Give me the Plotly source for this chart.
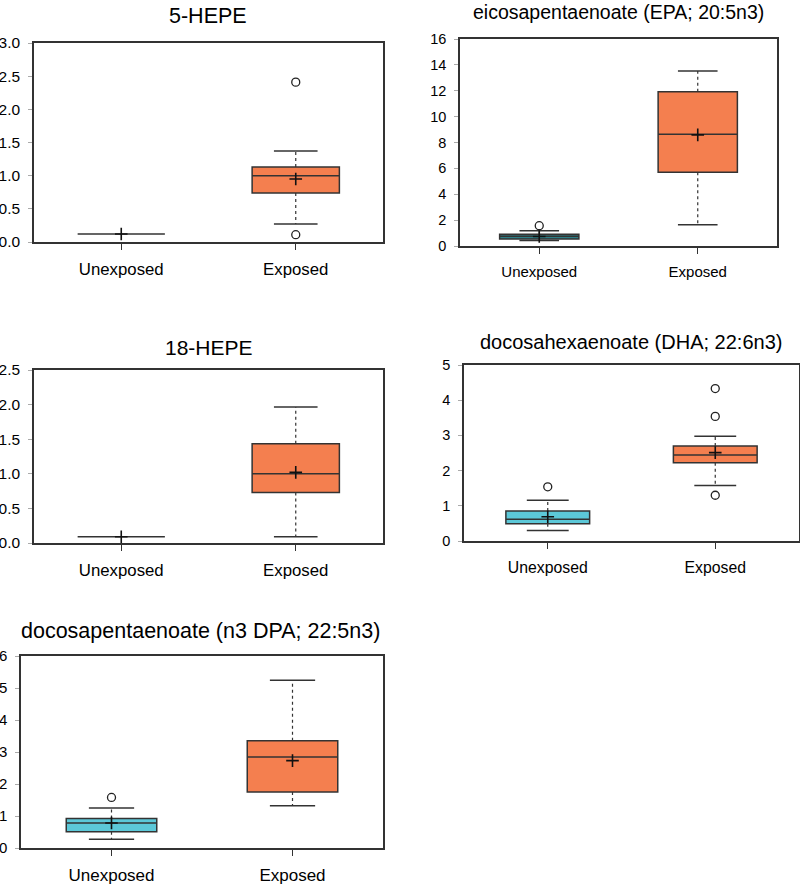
import plotly.graph_objects as go

# ---------------- data ----------------
categories = ["Unexposed", "Exposed"]
positions = [0, 1]

titles = ["5-HEPE", "eicosapentaenoate (EPA; 20:5n3)", "18-HEPE",
          "docosahexaenoate (DHA; 22:6n3)", "docosapentaenoate (n3 DPA; 22:5n3)"]

# 5-HEPE
hepe5_q1 = [0.12, 0.74]
hepe5_med = [0.12, 1.00]
hepe5_q3 = [0.12, 1.13]
hepe5_lo = [0.12, 0.27]
hepe5_hi = [0.12, 1.37]
hepe5_mean = [0.12, 0.95]
hepe5_out = [[], [2.41, 0.11]]

# EPA
epa_q1 = [0.55, 5.71]
epa_med = [0.75, 8.64]
epa_q3 = [0.90, 11.93]
epa_lo = [0.43, 1.65]
epa_hi = [1.18, 13.52]
epa_mean = [0.74, 8.59]
epa_out = [[1.57], []]

# 18-HEPE
hepe18_q1 = [0.09, 0.73]
hepe18_med = [0.09, 1.00]
hepe18_q3 = [0.09, 1.435]
hepe18_lo = [0.09, 0.09]
hepe18_hi = [0.09, 1.965]
hepe18_mean = [0.09, 1.02]
hepe18_out = [[], []]

# DHA
dha_q1 = [0.49, 2.22]
dha_med = [0.62, 2.44]
dha_q3 = [0.85, 2.70]
dha_lo = [0.30, 1.58]
dha_hi = [1.16, 2.975]
dha_mean = [0.69, 2.51]
dha_out = [[1.54], [4.33, 3.54, 1.30]]

# DPA
dpa_q1 = [0.51, 1.75]
dpa_med = [0.78, 2.84]
dpa_q3 = [0.92, 3.35]
dpa_lo = [0.27, 1.32]
dpa_hi = [1.25, 5.24]
dpa_mean = [0.78, 2.73]
dpa_out = [[1.58], []]

y_max = [3.0, 16, 2.5, 5, 6]
y_dtick = [0.5, 2, 0.5, 1, 1]
y_fmt = [".1f", "d", ".1f", "d", "d"]

panels = [
    (hepe5_q1, hepe5_med, hepe5_q3, hepe5_lo, hepe5_hi, hepe5_mean, hepe5_out),
    (epa_q1, epa_med, epa_q3, epa_lo, epa_hi, epa_mean, epa_out),
    (hepe18_q1, hepe18_med, hepe18_q3, hepe18_lo, hepe18_hi, hepe18_mean, hepe18_out),
    (dha_q1, dha_med, dha_q3, dha_lo, dha_hi, dha_mean, dha_out),
    (dpa_q1, dpa_med, dpa_q3, dpa_lo, dpa_hi, dpa_mean, dpa_out),
]

# ---------------- style / layout ----------------
W, H = 800, 886
# panel boxes in pixels: (left, right, top, bottom)
boxes_px = [(34, 383, 43, 242), (460, 777, 39, 246), (34, 383, 370, 543),
            (464, 799, 365, 541), (21, 383, 656, 848)]
title_px = [(208, 16), (618, 12), (209, 347), (631, 342), (201, 631)]
title_size = [21.5, 19.5, 21, 20, 21.5]
ytick_size = [15.5, 14.5, 15.5, 14.5, 15]
xtick_size = [16.8, 15, 16.8, 15.8, 17]
fills = [["#5CC8D8", "#F47F4F"], ["#2E7E85", "#F47F4F"], ["#5CC8D8", "#F47F4F"],
         ["#5CC8D8", "#F47F4F"], ["#5CC8D8", "#F47F4F"]]
LINE = "#333333"
TXT = "#000000"
BOXW = 0.5
CAPW = 0.25
FAMILY = "Liberation Sans, Arial, sans-serif"

fig = go.Figure()
layout = dict(width=W, height=H, margin=dict(l=0, r=0, t=0, b=0, autoexpand=False),
              paper_bgcolor="white", plot_bgcolor="white", showlegend=False,
              annotations=[])

for i, (q1, med, q3, lo, hi, mean, out) in enumerate(panels):
    n = "" if i == 0 else str(i + 1)
    xa, ya = "x" + n, "y" + n
    L, R, T, B = boxes_px[i]
    layout["xaxis" + n] = dict(
        domain=[L / W, R / W], range=[-0.5, 1.5], anchor=ya, automargin=False,
        tickmode="array", tickvals=positions, ticktext=categories,
        ticks="outside", ticklen=6, tickwidth=1.2, tickcolor=LINE,
        showline=True, linecolor=LINE, linewidth=1.5, mirror=True,
        showgrid=False, zeroline=False, ticklabelstandoff=5,
        tickfont=dict(family=FAMILY, size=xtick_size[i], color=TXT),
        fixedrange=True)
    layout["yaxis" + n] = dict(
        domain=[1 - B / H, 1 - T / H], range=[0, y_max[i]], anchor=xa, automargin=False,
        dtick=y_dtick[i], tick0=0, tickformat=y_fmt[i],
        ticks="outside", ticklen=4, tickwidth=1, tickcolor="#aaaaaa",
        showline=True, linecolor=LINE, linewidth=1.5, mirror=True,
        showgrid=False, zeroline=False, ticklabelstandoff=5,
        tickfont=dict(family=FAMILY, size=ytick_size[i], color=TXT),
        fixedrange=True)
    tx, ty = title_px[i]
    layout["annotations"].append(dict(
        text=titles[i], xref="paper", yref="paper", x=tx / W, y=1 - ty / H,
        xanchor="center", yanchor="middle", showarrow=False,
        font=dict(family=FAMILY, size=title_size[i], color=TXT)))

    for j, pos in enumerate(positions):
        # dashed whisker stems
        for a, b in ((q3[j], hi[j]), (q1[j], lo[j])):
            if a != b:
                fig.add_trace(go.Scatter(
                    x=[pos, pos], y=[a, b], xaxis=xa, yaxis=ya, mode="lines",
                    line=dict(color=LINE, width=1.2, dash="dot"), hoverinfo="skip"))
        # whisker caps
        for v, ref in ((hi[j], q3[j]), (lo[j], q1[j])):
            if v != ref:
                fig.add_trace(go.Scatter(
                    x=[pos - CAPW / 2, pos + CAPW / 2], y=[v, v], xaxis=xa, yaxis=ya,
                    mode="lines", line=dict(color=LINE, width=1.5), hoverinfo="skip"))
        # box
        fig.add_trace(go.Box(
            x=[pos], q1=[q1[j]], median=[med[j]], q3=[q3[j]],
            lowerfence=[q1[j]], upperfence=[q3[j]], width=BOXW, whiskerwidth=0,
            fillcolor=fills[i][j], line=dict(color=LINE, width=1.5),
            boxpoints=False, xaxis=xa, yaxis=ya, name=categories[j]))
        # mean marker
        fig.add_trace(go.Scatter(
            x=[pos], y=[mean[j]], xaxis=xa, yaxis=ya, mode="markers",
            marker=dict(symbol="cross-thin", size=9, line=dict(color="#111", width=1.6)),
            hoverinfo="skip"))
        # outliers
        if out[j]:
            fig.add_trace(go.Scatter(
                x=[pos] * len(out[j]), y=out[j], xaxis=xa, yaxis=ya, mode="markers",
                marker=dict(symbol="circle-open", size=8, color="#222",
                            line=dict(color="#222", width=1.3)),
                hoverinfo="skip"))

fig.update_layout(**layout)
fig.write_html("out.html", config={"displayModeBar": False},
               post_script="document.body.style.margin='0px';")
